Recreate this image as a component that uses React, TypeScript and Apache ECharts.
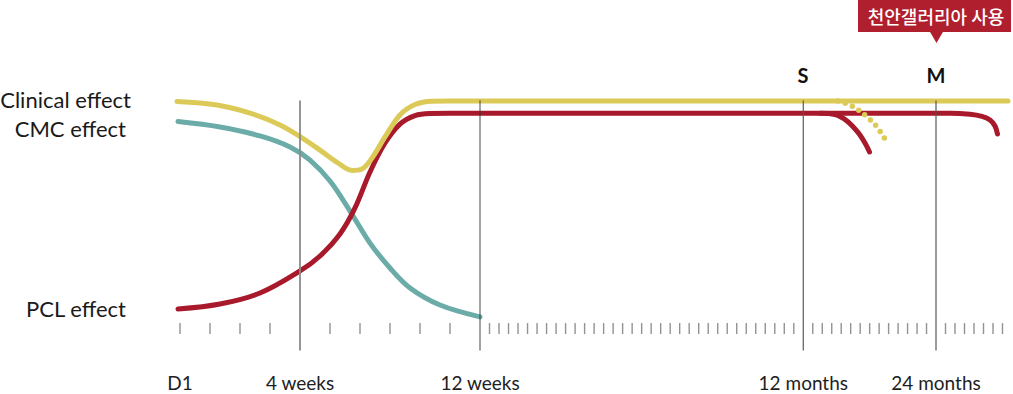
import React, { useEffect, useRef } from 'react';
import * as echarts from 'echarts';

// x: position along the timeline (D1 = 0), y: effect level (PCL baseline = 0, clinical plateau = 100)
const clinicalEffect: [number, number][] = [
  [-3, 99.8], [37, 98.1], [70, 94.2], [100, 88.5], [120, 82.9], [140, 76.4], [158, 70.2],
  [172, 66.6], [182, 67.3], [192, 72.6], [205, 82.7], [220, 93.3], [235, 98.3], [252, 99.9],
  [270, 100], [828, 100],
];
const clinicalFade: [number, number][] = [
  [658, 100], [672, 97.6], [686, 92.8], [697, 87.5], [706, 80.8],
];
const cmcEffect: [number, number][] = [
  [-2, 90.1], [40, 87.5], [80, 83.2], [110, 77.9], [130, 71.6], [150, 61.5], [170, 47.1],
  [190, 31.7], [210, 19.7], [230, 10.1], [260, 1.9], [300, -3.8],
];
const pclEffect: [number, number][] = [
  [-2, 0], [40, 2.4], [80, 7.7], [120, 18.3], [140, 25.5], [160, 36.1], [175, 48.6],
  [190, 65.9], [205, 79.8], [220, 88.9], [235, 93], [250, 94], [270, 94.1], [770, 94.1],
  [790, 93.6], [802, 92.6], [810, 90.9], [815, 88], [817.5, 84.1],
];
const pclStopS: [number, number][] = [
  [640, 94.1], [655, 93.5], [667, 90.4], [678, 84.9], [685, 79.8], [689.5, 75.5],
];

const xLabels = ['D1', '4 weeks', '12 weeks', '12 months', '24 months'];
const xLabelPos = [0, 120, 300, 623.3, 756];
const markerLabels = ['S', 'M'];
const seriesNames = ['Clinical effect', 'CMC effect', 'PCL effect'];
const callout = '천안갤러리아 사용';

// small ticks: evenly spaced between milestones
const between = (a: number, b: number, n: number) =>
  Array.from({ length: n }, (_, i) => a + ((b - a) * (i + 1)) / (n + 1));
const tickXs = [
  0, ...between(0, 120, 3), ...between(120, 300, 5),
  ...between(300, 623.3, 33), ...between(623.3, 756, 13),
  ...Array.from({ length: 7 }, (_, i) => 756 + 9.5 * (i + 1)),
];

const YELLOW = '#DCCA58';
const TEAL = '#6BABA8';
const RED = '#A8192B';

const curve = (name: string, data: [number, number][], color: string, z = 3) => ({
  name,
  type: 'line',
  data,
  smooth: 0.35,
  showSymbol: false,
  clip: false,
  silent: true,
  z,
  lineStyle: { width: 5, color, cap: 'round', join: 'round' },
});

const milestoneStyles = [
  { color: '#8a8a8a', width: 2 },
  { color: '#333333', width: 1 },
  { color: '#555555', width: 1.3 },
  { color: '#555555', width: 1.3 },
];

export default function App() {
  const ref = useRef<HTMLDivElement>(null);
  useEffect(() => {
    const chart = echarts.init(ref.current!, null, { renderer: 'svg' });
    const milestoneSeries = xLabelPos.slice(1).map((x, i) => ({
      type: 'line',
      data: [[x, 100.3], [x, -20]],
      showSymbol: false,
      clip: false,
      silent: true,
      z: 5,
      lineStyle: { ...milestoneStyles[i], opacity: 0.9 },
    }));
    chart.setOption({
      animation: false,
      grid: { left: 175, right: 0, top: 101, height: 249.6 },
      xAxis: {
        type: 'value',
        min: -5,
        max: 833,
        axisLine: { show: false },
        axisTick: { show: false },
        splitLine: { show: false },
        axisLabel: {
          customValues: xLabelPos,
          formatter: (v: number) => {
            const i = xLabelPos.findIndex((p) => Math.abs(p - v) < 0.5);
            return i >= 0 ? xLabels[i] : '';
          },
          margin: 22,
          fontFamily: 'Lato',
          fontSize: 19,
          color: '#1e1e1e',
        },
      },
      yAxis: { type: 'value', min: -20, max: 100, show: false },
      series: [
        {
          type: 'scatter',
          data: tickXs.map((x) => [x, -9.4]),
          symbol: 'rect',
          symbolSize: [1.4, 11],
          itemStyle: { color: '#777777' },
          silent: true,
          clip: false,
          z: 2,
        },
        curve(seriesNames[1], cmcEffect, TEAL, 3),
        curve(seriesNames[2], pclEffect, RED, 4),
        curve(seriesNames[2] + ' S', pclStopS, RED, 4),
        curve(seriesNames[0], clinicalEffect, YELLOW, 4),
        {
          ...curve(seriesNames[0] + ' S', clinicalFade, YELLOW, 4),
          lineStyle: { width: 5.5, color: YELLOW, cap: 'round', type: [0, 7.6] },
        },
        ...milestoneSeries,
      ],
      graphic: [
        { type: 'text', x: 131, y: 99, style: { text: seriesNames[0], font: '22px Lato', fill: '#1a1a1a', align: 'right', verticalAlign: 'middle' } },
        { type: 'text', x: 126, y: 128, style: { text: seriesNames[1], font: '22px Lato', fill: '#1a1a1a', align: 'right', verticalAlign: 'middle' } },
        { type: 'text', x: 126, y: 308, style: { text: seriesNames[2], font: '22px Lato', fill: '#1a1a1a', align: 'right', verticalAlign: 'middle' } },
        { type: 'text', x: 803, y: 75, style: { text: markerLabels[0], font: 'bold 20px Lato', fill: '#111', align: 'center', verticalAlign: 'middle' } },
        { type: 'text', x: 936, y: 75, style: { text: markerLabels[1], font: 'bold 20px Lato', fill: '#111', align: 'center', verticalAlign: 'middle' } },
        { type: 'rect', shape: { x: 858, y: 0, width: 153, height: 32 }, style: { fill: '#B01F2E' } },
        { type: 'polygon', shape: { points: [[929.5, 31], [943.5, 31], [936.5, 43]] }, style: { fill: '#B01F2E' } },
        { type: 'text', x: 936, y: 16, style: { text: callout, font: '500 18px "Noto Sans CJK KR"', fill: '#ffffff', align: 'center', verticalAlign: 'middle' } },
      ],
    });
    return () => chart.dispose();
  }, []);
  return <div ref={ref} style={{ position: 'absolute', left: 0, top: 0, width: 1013, height: 394 }} />;
}
